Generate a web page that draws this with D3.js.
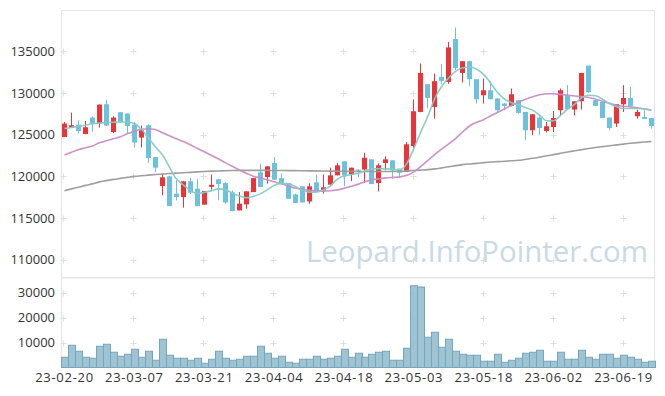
<!DOCTYPE html>
<html>
<head>
<meta charset="utf-8">
<script src="https://cdn.jsdelivr.net/npm/d3@7"></script>
<style>
  html, body { margin: 0; padding: 0; background: #fff; }
  svg { display: block; }
  text { font-family: "Open Sans", "Noto Sans", sans-serif; }
</style>
</head>
<body>
<svg id="chart" width="665" height="396"></svg>
<script>
// ---------------- DATA ----------------
const dates = [
  "23-02-20","23-02-21","23-02-22","23-02-23","23-02-24","23-02-27","23-02-28",
  "23-03-02","23-03-03","23-03-06","23-03-07","23-03-08","23-03-09","23-03-10","23-03-13","23-03-14","23-03-15","23-03-16","23-03-17","23-03-20","23-03-21","23-03-22","23-03-23","23-03-24","23-03-27","23-03-28","23-03-29","23-03-30","23-03-31",
  "23-04-03","23-04-04","23-04-05","23-04-06","23-04-07","23-04-10","23-04-11","23-04-12","23-04-13","23-04-14","23-04-17","23-04-18","23-04-19","23-04-20","23-04-21","23-04-24","23-04-25","23-04-26","23-04-27","23-04-28",
  "23-05-02","23-05-03","23-05-04","23-05-08","23-05-09","23-05-10","23-05-11","23-05-12","23-05-15","23-05-16","23-05-17","23-05-18","23-05-19","23-05-22","23-05-23","23-05-24","23-05-25","23-05-26","23-05-30","23-05-31",
  "23-06-01","23-06-02","23-06-05","23-06-07","23-06-08","23-06-09","23-06-12","23-06-13","23-06-14","23-06-15","23-06-16","23-06-19","23-06-20","23-06-21","23-06-22","23-06-23"
];

const openP = [124710,125820,126200,125070,127040,126320,128640,125310,127680,127520,
  126200,124640,126120,122310,118820,119990,117910,117500,119390,118510,
  116590,118730,119630,119180,118060,115900,116620,118100,120470,119900,
  121590,119780,119180,117820,118790,116980,119270,118270,118990,120110,
  121790,120190,120800,120810,122030,119180,121590,121910,120910,120510,
  123630,127720,131050,128320,131920,131320,136460,132400,133810,131650,
  129720,130320,129330,128730,128440,129120,127720,125520,127040,125430,
  125910,127920,129720,128000,129000,133270,129120,128920,127040,126320,
  128640,129400,127200,127120,126990];
const highP = [126510,127640,126720,126630,127200,128600,129120,127200,127700,127560,
  126480,126080,126240,122310,120310,120000,119500,119400,119800,119670,
  118220,120210,119630,119300,118300,118100,118200,119800,121510,121200,
  122310,120350,119200,117900,118800,119150,120200,120210,121030,121590,
  121800,121030,120830,122820,122030,121550,122390,121910,120910,124110,
  129210,133530,131050,132330,133450,136130,137860,133810,133850,131650,
  131730,131440,129400,128800,130530,129120,127720,127440,127200,126510,
  127840,130530,130930,129000,132400,133300,129200,128920,127040,128640,
  130930,130720,128000,127920,126990];
const lowP = [124700,125800,125120,125050,125360,125840,126000,125190,126390,125190,
  123440,123440,121590,120500,117700,116400,117100,116230,117870,116400,
  116590,118400,117130,116700,115800,115900,116100,118100,118700,119110,
  119590,119100,117290,116780,116860,116700,118150,117910,118990,120110,
  118790,119420,119890,119180,119060,118180,120710,119710,119790,120510,
  123110,127680,128130,126920,131050,131100,132730,131250,130840,128730,
  128730,129240,127600,127920,128400,127500,124310,124920,124920,125240,
  125310,127200,128040,127320,128000,130000,128440,126990,125520,125910,
  127720,128440,126920,126880,125720];
const closeP = [126320,126120,125430,125880,126240,128600,126080,127040,126510,126030,
  124040,125520,122190,121030,119870,116420,117500,119390,118030,116420,
  118220,118970,119060,116860,115820,116710,118190,119780,118700,121190,
  119590,119110,117290,116780,116860,118790,118150,118670,120110,121310,
  120110,121030,120700,122220,119060,121310,122030,120710,120430,123830,
  127800,132400,129400,131410,131440,135460,133010,133810,131650,129240,
  130320,129240,127920,128440,129840,127600,125520,127440,125790,126000,
  126990,130320,128040,129000,132400,130080,128440,126990,125790,128640,
  129400,128440,127720,126880,126030];

const volume = [4100,8900,6500,4100,3700,8500,9300,6100,4500,5300,
  7300,4100,6500,2900,11300,4900,3700,3700,2900,3700,
  1700,3300,6500,3700,2900,3300,4500,4500,8500,5700,
  3700,4500,2100,1700,3300,3300,4500,3300,3700,4500,
  7300,4100,5700,4100,5300,6100,6500,2900,2900,7700,
  32700,32200,12100,14100,8100,11300,6500,5300,4900,4900,
  2500,2500,5300,2100,2900,3700,5700,6100,6900,2500,
  2500,6100,3300,3300,6900,4100,3300,5300,5300,3700,
  4900,4100,3300,2100,2500];

const ma5 = [125733,125853,125998,126118,126322,126382,126442,126478,126515,126478,
  126334,125637,124615,123534,122572,121130,119687,118966,118305,117908,
  118064,118245,118485,118365,118004,117644,117427,117584,117884,118365,
  118906,119146,119086,118786,118305,118100,118100,118365,118786,119627,
  120048,120192,120348,120649,120889,120913,120889,120829,120769,121550,
  123353,125337,127200,129363,130806,131827,132609,133029,133114,132849,
  132188,131166,130024,129243,128822,128546,128221,127921,127320,126659,
  126659,127320,128041,128642,129423,129724,129664,129243,128702,128342,
  128125,128125,128125,128101,127921];

const ma20 = [122548,122872,123197,123413,123630,124014,124255,124495,124736,125096,
  125397,125637,125697,125601,125216,124856,124495,124159,123774,123353,
  122933,122512,122091,121634,121190,120769,120348,120012,119783,119567,
  119351,119110,118846,118581,118401,118305,118245,118221,118269,118365,
  118545,118786,119026,119327,119567,119687,119807,119867,119928,120108,
  120529,121190,121911,122632,123293,123894,124555,125337,126058,126478,
  126803,127260,127680,128101,128522,128907,129243,129544,129784,129904,
  129904,129820,129724,129628,129568,129447,129243,129003,128762,128522,
  128402,128330,128221,128065,127885];

const ma60 = [118270,118485,118690,118906,119086,119327,119471,119627,119747,119867,
  119988,120060,120132,120204,120264,120324,120372,120420,120468,120528,
  120577,120613,120637,120661,120685,120709,120710,120710,120700,120700,
  120690,120690,120680,120670,120660,120650,120640,120630,120620,120610,
  120600,120590,120580,120570,120570,120570,120570,120570,120580,120649,
  120685,120733,120793,120889,121009,121130,121274,121394,121478,121550,
  121634,121707,121755,121803,121851,121911,122031,122151,122296,122452,
  122596,122752,122909,123053,123197,123329,123449,123558,123666,123762,
  123858,123954,124038,124111,124171];

const priceTicks = [110000,115000,120000,125000,130000,135000];
const volumeTicks = [10000,20000,30000];
const dateTickIdx = [0,10,20,30,40,50,60,70,80];
const watermark = "Leopard.InfoPointer.com";

// ---------------- CHART ----------------
const svg = d3.select("#chart");
const L = 61, R = 655;
const pTop = 10, pBot = 277.5, vTop = 277.5, vBot = 367.5;

const x = d3.scaleBand().domain(d3.range(dates.length)).range([L, R]).padding(0);
const bw = x.bandwidth();
const cx = i => Math.floor(x(i) + bw / 2) + 0.5;

const y = d3.scaleLinear().domain([107850, 139950]).range([pBot, pTop]);
const yv = d3.scaleLinear().domain([0, 36000]).range([vBot, vTop]);

// panel frames
svg.append("rect").attr("x", L + 0.5).attr("y", pTop + 0.5).attr("width", R - L - 1).attr("height", pBot - pTop)
  .attr("fill", "none").attr("stroke", "#e4e4e4");
svg.append("rect").attr("x", L + 0.5).attr("y", vTop).attr("width", R - L - 1).attr("height", vBot - vTop)
  .attr("fill", "none").attr("stroke", "#e4e4e4");

// watermark
svg.append("text").attr("x", 306).attr("y", 262)
  .attr("font-size", 29.4).attr("fill", "#c8dae4")
  .text(watermark);

// plus-shaped grid marks
const plusG = svg.append("g").attr("stroke", "#dedede").attr("stroke-width", 1);
function plus(px, py) {
  px = Math.round(px) + 0.5; py = Math.round(py) + 0.5;
  plusG.append("line").attr("x1", px - 3).attr("x2", px + 3).attr("y1", py).attr("y2", py);
  plusG.append("line").attr("x1", px).attr("x2", px).attr("y1", py - 3).attr("y2", py + 3);
}
dateTickIdx.forEach(i => {
  priceTicks.forEach(t => plus(x(i) + bw / 2 - 1, y(t)));
  volumeTicks.forEach(t => plus(x(i) + bw / 2 - 1, yv(t)));
});

// volume bars
svg.append("g").selectAll("rect").data(volume).join("rect")
  .attr("x", (d, i) => Math.round(x(i)) + 0.5)
  .attr("width", Math.round(bw))
  .attr("y", d => yv(d))
  .attr("height", d => vBot - yv(d))
  .attr("fill", "#93bccd").attr("fill-opacity", 0.9)
  .attr("stroke", "#77a5ba").attr("stroke-width", 1);

// candles
const up = "#eb3338", down = "#6cc1dc";
const cg = svg.append("g");
d3.range(dates.length).forEach(i => {
  const o = openP[i], c = closeP[i], h = highP[i], l = lowP[i];
  const col = c >= o ? up : down;
  cg.append("line").attr("x1", cx(i)).attr("x2", cx(i))
    .attr("y1", y(h)).attr("y2", y(l)).attr("stroke", col).attr("stroke-width", 1);
  const top = y(Math.max(o, c)), bot = y(Math.min(o, c));
  cg.append("rect").attr("x", cx(i) - 2.5).attr("width", 5)
    .attr("y", top).attr("height", Math.max(1, bot - top))
    .attr("fill", col);
});

// moving averages
const line = d3.line().x((d, i) => x(i) + bw / 2).y(d => y(d)).curve(d3.curveMonotoneX);
[[ma60, "#9a9a9a"], [ma20, "#c98cc6"], [ma5, "#86cbc2"]].forEach(([arr, col]) => {
  svg.append("path").datum(arr).attr("d", line)
    .attr("fill", "none").attr("stroke", col).attr("stroke-width", 1.6).attr("stroke-opacity", 0.95);
});

// axes
const styleAxis = g => {
  g.select(".domain").remove();
  g.selectAll(".tick line").remove();
  g.selectAll("text").attr("fill", "#333").attr("font-size", 13)
    .attr("font-family", "'Open Sans', 'Noto Sans', sans-serif");
};
svg.append("g").attr("transform", `translate(${L},0)`)
  .call(d3.axisLeft(y).tickValues(priceTicks).tickSize(0).tickPadding(6).tickFormat(d3.format("d")))
  .call(styleAxis);
svg.append("g").attr("transform", `translate(${L},0)`)
  .call(d3.axisLeft(yv).tickValues(volumeTicks).tickSize(0).tickPadding(6).tickFormat(d3.format("d")))
  .call(styleAxis);
svg.append("g").attr("transform", `translate(0,${vBot})`)
  .call(d3.axisBottom(x).tickValues(dateTickIdx).tickSize(0).tickPadding(5).tickFormat(i => dates[i]))
  .call(styleAxis)
  .call(g => g.selectAll("text").attr("letter-spacing", "0.7px"));
</script>
</body>
</html>
